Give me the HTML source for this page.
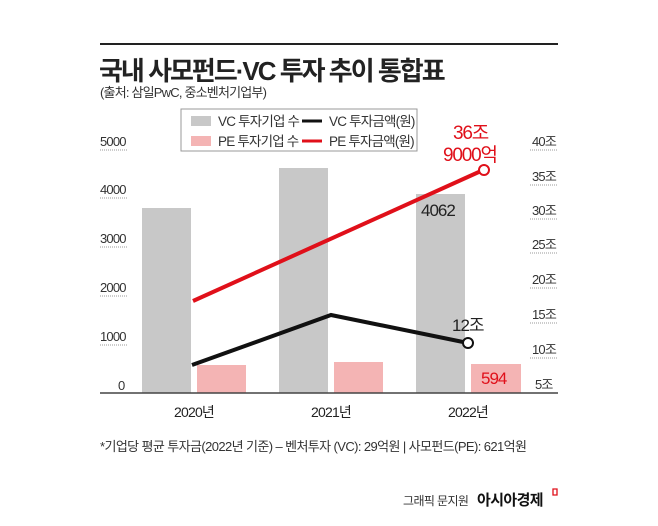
<!DOCTYPE html>
<html><head><meta charset="utf-8"><style>
html,body{margin:0;padding:0;background:#fff;width:658px;height:526px;overflow:hidden}
svg text{font-family:"Liberation Sans","Noto Sans CJK KR",sans-serif}
</style></head><body>
<svg width="658" height="526" viewBox="0 0 658 526">
<line x1="100" y1="44" x2="558" y2="44" stroke="#222" stroke-width="2"/>
<text x="99" y="80" font-size="26" font-weight="bold" fill="#222" letter-spacing="-2">국내 사모펀드·VC 투자 추이 통합표</text>
<text x="100" y="97" font-size="13" fill="#333" letter-spacing="-0.8">(출처: 삼일PwC, 중소벤처기업부)</text>
<rect x="181" y="109" width="236" height="42" fill="#fff" stroke="#999" stroke-width="1"/>
<rect x="191" y="116" width="20" height="10" fill="#c8c8c8"/>
<rect x="191" y="136" width="20" height="10" fill="#f4b4b4"/>
<text x="218" y="126" font-size="13.5" fill="#333" letter-spacing="-0.8">VC 투자기업 수</text>
<text x="218" y="146" font-size="13.5" fill="#333" letter-spacing="-0.8">PE 투자기업 수</text>
<line x1="302" y1="121" x2="322" y2="121" stroke="#111" stroke-width="3"/>
<line x1="302" y1="141" x2="322" y2="141" stroke="#e0101a" stroke-width="3"/>
<text x="329" y="126" font-size="13.5" fill="#333" letter-spacing="-0.8">VC 투자금액(원)</text>
<text x="329" y="146" font-size="13.5" fill="#333" letter-spacing="-0.8">PE 투자금액(원)</text>
<g font-size="13" fill="#333" letter-spacing="-0.8">
<text x="100" y="146">5000</text><text x="100" y="194">4000</text><text x="100" y="243">3000</text>
<text x="100" y="292">2000</text><text x="100" y="341">1000</text><text x="118" y="390">0</text>
<text x="532" y="146">40조</text><text x="532" y="181">35조</text><text x="532" y="215">30조</text>
<text x="532" y="249">25조</text><text x="532" y="284">20조</text><text x="532" y="319">15조</text>
<text x="532" y="354">10조</text><text x="535" y="389">5조</text>
</g>
<g stroke="#999" stroke-width="1" stroke-dasharray="1,1">
<line x1="100" y1="150" x2="128" y2="150"/><line x1="100" y1="198" x2="128" y2="198"/>
<line x1="100" y1="247" x2="128" y2="247"/><line x1="100" y1="296" x2="128" y2="296"/>
<line x1="100" y1="345" x2="128" y2="345"/>
<line x1="530" y1="150" x2="558" y2="150"/><line x1="530" y1="185" x2="558" y2="185"/>
<line x1="530" y1="219" x2="558" y2="219"/><line x1="530" y1="253" x2="558" y2="253"/>
<line x1="530" y1="288" x2="558" y2="288"/><line x1="530" y1="323" x2="558" y2="323"/>
<line x1="530" y1="358" x2="558" y2="358"/>
</g>
<rect x="142" y="208" width="49" height="185" fill="#c8c8c8"/>
<rect x="197" y="365" width="49" height="28" fill="#f4b4b4"/>
<rect x="279" y="168" width="49" height="225" fill="#c8c8c8"/>
<rect x="334" y="362" width="49" height="31" fill="#f4b4b4"/>
<rect x="416" y="194" width="49" height="199" fill="#c8c8c8"/>
<rect x="471" y="364" width="50" height="29" fill="#f4b4b4"/>
<line x1="100" y1="393" x2="558" y2="393" stroke="#444" stroke-width="1.5"/>
<polyline points="192,365 331,315 468,343" fill="none" stroke="#111" stroke-width="4"/>
<circle cx="468" cy="343" r="5" fill="#fff" stroke="#111" stroke-width="2"/>
<line x1="193" y1="301" x2="481" y2="171" stroke="#e0101a" stroke-width="4"/>
<circle cx="484" cy="170" r="5" fill="#fff" stroke="#e0101a" stroke-width="2"/>
<text x="453" y="139" font-size="19" fill="#e0101a" letter-spacing="-1.2">36조</text>
<text x="443" y="161" font-size="19" fill="#e0101a" letter-spacing="-1.2">9000억</text>
<text x="421" y="216" font-size="17" fill="#222" letter-spacing="-1">4062</text>
<text x="452" y="331" font-size="17" fill="#222" letter-spacing="-1">12조</text>
<text x="481" y="384" font-size="17" fill="#e0101a" letter-spacing="-1">594</text>
<g font-size="14" fill="#222" letter-spacing="-0.8" text-anchor="middle">
<text x="194" y="417">2020년</text><text x="331" y="417">2021년</text><text x="468" y="417">2022년</text>
</g>
<text x="100" y="451" font-size="13" fill="#333" letter-spacing="-0.6">*기업당 평균 투자금(2022년 기준) – 벤처투자 (VC): 29억원 | 사모펀드(PE): 621억원</text>
<text x="403" y="505" font-size="12" fill="#333" letter-spacing="-0.6">그래픽 문지원</text>
<text x="477" y="505" font-size="15" font-weight="bold" fill="#111" letter-spacing="-0.6">아시아경제</text>
<path d="M553,489 h4 v6 h-4 z" fill="none" stroke="#e0101a" stroke-width="1.3"/>
</svg>
</body></html>
